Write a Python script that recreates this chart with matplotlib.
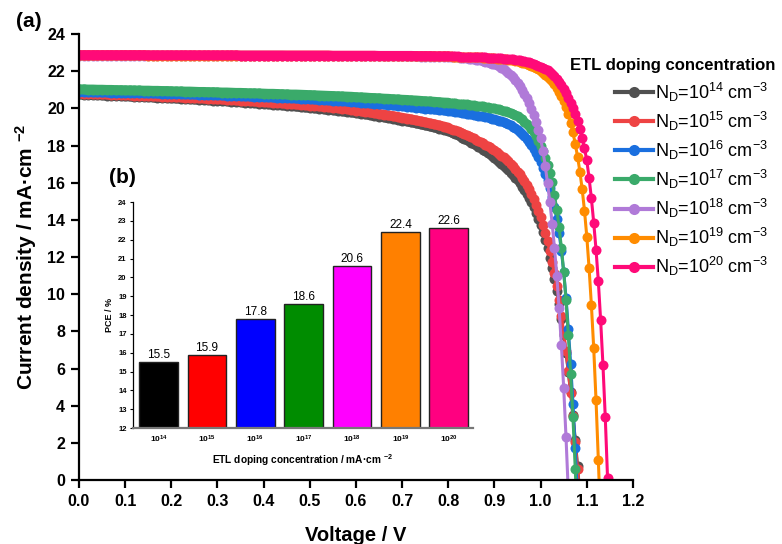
import numpy as np
import matplotlib.pyplot as plt

plt.rcParams['font.family'] = ['Liberation Sans', 'DejaVu Sans']
plt.rcParams['mathtext.fontset'] = 'custom'
plt.rcParams['mathtext.rm'] = 'Liberation Sans'
plt.rcParams['mathtext.it'] = 'Liberation Sans:italic'
plt.rcParams['mathtext.bf'] = 'Liberation Sans:bold'

# J-V data: *_lo sampled every 0.01 V from 0 V, *_hi every 0.005 V from 0.80 V
gray_lo = [20.75, 20.74, 20.73, 20.72, 20.71, 20.70, 20.69, 20.68, 20.67, 20.66,
           20.65, 20.64, 20.63, 20.62, 20.61, 20.60, 20.59, 20.57, 20.56, 20.55,
           20.54, 20.53, 20.52, 20.50, 20.49, 20.48, 20.46, 20.45, 20.44, 20.42,
           20.41, 20.39, 20.38, 20.36, 20.34, 20.33, 20.31, 20.29, 20.28, 20.26,
           20.24, 20.22, 20.20, 20.18, 20.16, 20.14, 20.12, 20.10, 20.07, 20.05,
           20.03, 20.00, 19.98, 19.95, 19.93, 19.90, 19.87, 19.84, 19.81, 19.78,
           19.75, 19.71, 19.68, 19.64, 19.60, 19.56, 19.52, 19.48, 19.44, 19.39,
           19.34, 19.30, 19.25, 19.20, 19.14, 19.09, 19.03, 18.97, 18.91, 18.85]
gray_hi = [18.79, 18.73, 18.67, 18.61, 18.55, 18.49, 18.43, 18.37, 18.30, 18.23,
           18.16, 18.09, 18.02, 17.94, 17.86, 17.78, 17.70, 17.61, 17.52, 17.43,
           17.33, 17.23, 17.13, 17.02, 16.91, 16.79, 16.67, 16.54, 16.41, 16.27,
           16.12, 15.96, 15.79, 15.61, 15.41, 15.19, 14.95, 14.68, 14.39, 14.07,
           13.72, 13.34, 12.92, 12.46, 11.96, 11.42, 10.83, 10.18, 9.48, 8.65,
           7.78, 6.84, 5.82, 4.71, 3.50, 2.18, 0.75, -0.80]

red_lo = [20.80, 20.79, 20.78, 20.77, 20.76, 20.76, 20.75, 20.74, 20.73, 20.72,
          20.71, 20.70, 20.69, 20.68, 20.67, 20.66, 20.65, 20.64, 20.63, 20.62,
          20.61, 20.60, 20.59, 20.58, 20.57, 20.55, 20.54, 20.53, 20.52, 20.50,
          20.49, 20.48, 20.46, 20.45, 20.43, 20.42, 20.40, 20.39, 20.37, 20.36,
          20.34, 20.32, 20.31, 20.29, 20.27, 20.25, 20.23, 20.21, 20.19, 20.17,
          20.15, 20.13, 20.11, 20.09, 20.06, 20.04, 20.01, 19.99, 19.96, 19.93,
          19.88, 19.85, 19.81, 19.78, 19.74, 19.70, 19.66, 19.62, 19.58, 19.54,
          19.49, 19.45, 19.40, 19.35, 19.30, 19.25, 19.19, 19.14, 19.08, 19.02]
red_hi = [18.96, 18.91, 18.86, 18.81, 18.76, 18.71, 18.66, 18.61, 18.56, 18.50,
          18.44, 18.38, 18.32, 18.26, 18.19, 18.12, 18.05, 17.98, 17.90, 17.82,
          17.74, 17.65, 17.56, 17.46, 17.36, 17.25, 17.14, 17.02, 16.89, 16.76,
          16.60, 16.44, 16.27, 16.09, 15.89, 15.66, 15.40, 15.12, 14.82, 14.49,
          14.13, 13.74, 13.31, 12.84, 12.32, 11.75, 11.12, 10.43, 9.67, 8.84,
          7.93, 6.94, 5.86, 4.69, 3.42, 2.05, 0.58, -1.00]

blue_lo = [20.88, 20.88, 20.87, 20.87, 20.87, 20.86, 20.86, 20.85, 20.85, 20.85,
           20.84, 20.83, 20.83, 20.82, 20.82, 20.81, 20.81, 20.80, 20.79, 20.79,
           20.78, 20.77, 20.77, 20.76, 20.75, 20.75, 20.74, 20.73, 20.72, 20.72,
           20.71, 20.70, 20.69, 20.68, 20.67, 20.66, 20.65, 20.64, 20.63, 20.62,
           20.61, 20.60, 20.59, 20.58, 20.57, 20.56, 20.55, 20.53, 20.52, 20.51,
           20.50, 20.48, 20.47, 20.45, 20.44, 20.42, 20.40, 20.39, 20.37, 20.35,
           20.33, 20.31, 20.29, 20.27, 20.25, 20.23, 20.21, 20.19, 20.16, 20.14,
           20.12, 20.09, 20.07, 20.04, 20.02, 19.99, 19.97, 19.94, 19.91, 19.89]
blue_hi = [19.86, 19.84, 19.83, 19.81, 19.80, 19.78, 19.76, 19.74, 19.72, 19.70,
           19.68, 19.66, 19.64, 19.61, 19.59, 19.57, 19.54, 19.51, 19.48, 19.45,
           19.42, 19.38, 19.34, 19.30, 19.25, 19.20, 19.14, 19.08, 19.01, 18.93,
           18.84, 18.74, 18.63, 18.50, 18.36, 18.20, 18.02, 17.82, 17.60, 17.36,
           17.10, 16.81, 16.49, 16.13, 15.72, 15.25, 14.70, 14.05, 13.28, 12.35,
           11.20, 9.80, 8.15, 6.25, 4.10, 1.70, -0.90]

green_lo = [21.02, 21.02, 21.01, 21.01, 21.00, 21.00, 20.99, 20.99, 20.98, 20.98,
            20.97, 20.97, 20.96, 20.96, 20.95, 20.95, 20.94, 20.94, 20.93, 20.93,
            20.92, 20.91, 20.91, 20.90, 20.90, 20.89, 20.88, 20.88, 20.87, 20.87,
            20.86, 20.85, 20.85, 20.84, 20.83, 20.83, 20.82, 20.81, 20.81, 20.80,
            20.79, 20.78, 20.78, 20.77, 20.76, 20.75, 20.74, 20.74, 20.73, 20.72,
            20.71, 20.70, 20.69, 20.68, 20.67, 20.66, 20.65, 20.64, 20.63, 20.62,
            20.60, 20.59, 20.58, 20.56, 20.55, 20.54, 20.52, 20.51, 20.49, 20.48,
            20.46, 20.45, 20.43, 20.42, 20.40, 20.38, 20.37, 20.35, 20.33, 20.31]
green_hi = [20.30, 20.29, 20.28, 20.27, 20.26, 20.25, 20.23, 20.22, 20.21, 20.19,
            20.18, 20.16, 20.15, 20.13, 20.12, 20.10, 20.08, 20.06, 20.04, 20.02,
            20.00, 19.97, 19.94, 19.91, 19.88, 19.84, 19.80, 19.75, 19.70, 19.64,
            19.57, 19.49, 19.40, 19.29, 19.17, 19.03, 18.88, 18.70, 18.50, 18.25,
            17.98, 17.68, 17.35, 16.97, 16.53, 16.02, 15.32, 14.55, 13.60, 12.50,
            11.20, 9.70, 7.80, 5.70, 3.40, 0.60, -2.50]

purple_lo = [22.84, 22.84, 22.84, 22.84, 22.84, 22.84, 22.84, 22.84, 22.84, 22.84,
             22.84, 22.84, 22.84, 22.84, 22.84, 22.84, 22.84, 22.84, 22.84, 22.84,
             22.84, 22.84, 22.84, 22.84, 22.84, 22.83, 22.83, 22.83, 22.83, 22.83,
             22.83, 22.83, 22.83, 22.83, 22.83, 22.83, 22.83, 22.83, 22.83, 22.83,
             22.83, 22.83, 22.83, 22.83, 22.83, 22.82, 22.82, 22.82, 22.82, 22.82,
             22.82, 22.82, 22.82, 22.82, 22.82, 22.81, 22.81, 22.81, 22.81, 22.81,
             22.81, 22.81, 22.81, 22.81, 22.81, 22.80, 22.80, 22.80, 22.80, 22.80,
             22.80, 22.79, 22.79, 22.79, 22.78, 22.78, 22.78, 22.77, 22.77, 22.76]
purple_hi = [22.76, 22.76, 22.75, 22.75, 22.74, 22.73, 22.72, 22.71, 22.70, 22.68,
             22.66, 22.64, 22.62, 22.60, 22.58, 22.55, 22.52, 22.49, 22.45, 22.41,
             22.37, 22.32, 22.26, 22.19, 22.11, 22.02, 21.92, 21.81, 21.68, 21.54,
             21.38, 21.20, 21.00, 20.78, 20.54, 20.27, 19.97, 19.64, 19.27, 18.85,
             18.38, 17.70, 16.90, 15.97, 14.95, 13.80, 12.50, 11.00, 9.25, 7.25,
             4.95, 2.30, -0.65]

orange_lo = [22.85, 22.85, 22.85, 22.85, 22.85, 22.85, 22.85, 22.85, 22.85, 22.85,
             22.85, 22.85, 22.85, 22.85, 22.85, 22.84, 22.84, 22.84, 22.84, 22.84,
             22.84, 22.84, 22.84, 22.84, 22.84, 22.84, 22.84, 22.84, 22.84, 22.84,
             22.84, 22.84, 22.84, 22.84, 22.84, 22.83, 22.83, 22.83, 22.83, 22.83,
             22.83, 22.83, 22.83, 22.83, 22.83, 22.83, 22.83, 22.83, 22.83, 22.83,
             22.83, 22.83, 22.83, 22.83, 22.83, 22.82, 22.82, 22.82, 22.82, 22.82,
             22.82, 22.82, 22.82, 22.82, 22.82, 22.81, 22.81, 22.81, 22.81, 22.81,
             22.81, 22.81, 22.81, 22.80, 22.80, 22.80, 22.80, 22.79, 22.79, 22.79]
orange_hi = [22.79, 22.79, 22.78, 22.78, 22.78, 22.77, 22.77, 22.77, 22.76, 22.76,
             22.76, 22.75, 22.75, 22.74, 22.74, 22.73, 22.73, 22.72, 22.72, 22.71,
             22.69, 22.68, 22.67, 22.66, 22.65, 22.64, 22.62, 22.60, 22.58, 22.56,
             22.53, 22.50, 22.46, 22.42, 22.38, 22.33, 22.28, 22.22, 22.16, 22.09,
             22.01, 21.92, 21.82, 21.71, 21.59, 21.45, 21.29, 21.11, 20.90, 20.66,
             20.38, 20.05, 19.67, 19.22, 18.70, 18.10, 17.40, 16.60, 15.65, 14.50,
             13.10, 11.40, 9.40, 7.10, 4.30, 1.10, -2.30]

pink_lo = [22.86, 22.86, 22.86, 22.86, 22.86, 22.86, 22.86, 22.86, 22.86, 22.86,
           22.86, 22.86, 22.86, 22.86, 22.86, 22.85, 22.85, 22.85, 22.85, 22.85,
           22.85, 22.85, 22.85, 22.85, 22.85, 22.85, 22.85, 22.85, 22.85, 22.85,
           22.85, 22.85, 22.85, 22.85, 22.85, 22.84, 22.84, 22.84, 22.84, 22.84,
           22.84, 22.84, 22.84, 22.84, 22.84, 22.84, 22.84, 22.84, 22.84, 22.84,
           22.84, 22.84, 22.84, 22.84, 22.84, 22.83, 22.83, 22.83, 22.83, 22.83,
           22.83, 22.83, 22.83, 22.83, 22.83, 22.82, 22.82, 22.82, 22.82, 22.82,
           22.82, 22.82, 22.82, 22.81, 22.81, 22.81, 22.81, 22.80, 22.80, 22.80]
pink_hi = [22.80, 22.80, 22.79, 22.79, 22.79, 22.78, 22.78, 22.78, 22.77, 22.77,
           22.77, 22.76, 22.76, 22.75, 22.75, 22.74, 22.74, 22.73, 22.73, 22.72,
           22.72, 22.71, 22.70, 22.69, 22.68, 22.67, 22.66, 22.65, 22.63, 22.62,
           22.60, 22.58, 22.56, 22.53, 22.50, 22.47, 22.43, 22.39, 22.35, 22.30,
           22.25, 22.19, 22.12, 22.04, 21.95, 21.85, 21.73, 21.59, 21.43, 21.25,
           21.05, 20.83, 20.58, 20.31, 20.01, 19.68, 19.31, 18.89, 18.41, 17.85,
           17.20, 16.25, 15.15, 13.85, 12.40, 10.70, 8.60, 6.20, 3.40, 0.10]

exponents = ['14', '15', '16', '17', '18', '19', '20']
line_colors = ['#505050', '#ee4343', '#1a6fdf', '#3aaa6a', '#b07ad8', '#ff8c00', '#ff0a78']
curves_lo = [gray_lo, red_lo, blue_lo, green_lo, purple_lo, orange_lo, pink_lo]
curves_hi = [gray_hi, red_hi, blue_hi, green_hi, purple_hi, orange_hi, pink_hi]

# inset: PCE vs ETL doping
pce = [15.5, 15.9, 17.8, 18.6, 20.6, 22.4, 22.6]
bar_colors = ['#000000', '#ff0000', '#0000ff', '#008c00', '#ff00ff', '#ff8000', '#ff0080']

fig = plt.figure(figsize=(7.82, 5.44), dpi=100)
ax = fig.add_axes([0.101, 0.1176, 0.7084, 0.8199])

handles = []
for jlo, jhi, c, e in zip(curves_lo, curves_hi, line_colors, exponents):
    v = np.concatenate([np.arange(len(jlo)) * 0.01, 0.8 + np.arange(len(jhi)) * 0.005])
    j = np.concatenate([jlo, jhi])
    n = len(jlo) + 1
    # dense marker band in the flat part
    ax.plot(v[:n], j[:n], color=c, lw=7.2, solid_capstyle='round')
    h, = ax.plot(v, j, '-o', color=c, lw=2.2, ms=7.2, mew=0,
                 label=r'N$_\mathrm{D}$=10$^{%s}$ cm$^{-3}$' % e)
    handles.append(h)

ax.set_xlim(0, 1.2)
ax.set_ylim(0, 24)
ax.set_xticks(np.arange(0, 1.21, 0.1))
ax.set_xticklabels(['%.1f' % t for t in np.arange(0, 1.21, 0.1)])
ax.set_yticks(range(0, 25, 2))
for s in ['top', 'right']:
    ax.spines[s].set_visible(False)
for s in ['left', 'bottom']:
    ax.spines[s].set_linewidth(1.6)
ax.tick_params(direction='out', length=6, width=1.6, labelsize=11.5, pad=4)
for t in ax.get_xticklabels() + ax.get_yticklabels():
    t.set_fontweight('bold')
ax.set_xlabel('Voltage / V', fontsize=14.5, fontweight='bold', labelpad=12)
ax.set_ylabel(r'Current density / mA·cm $^{\mathbf{-2}}$', fontsize=15, fontweight='bold', labelpad=6)

fig.text(0.729, 0.879, 'ETL doping concentration', fontsize=12, fontweight='bold',
         ha='left', va='center')
leg = ax.legend(handles=handles, loc='upper left', bbox_to_anchor=(0.786, 0.852),
                bbox_transform=fig.transFigure, frameon=False, fontsize=13,
                handlelength=2.1, handletextpad=0.12, labelspacing=0.33,
                borderaxespad=0, borderpad=0)
for h in leg.legend_handles:
    h.set_linewidth(3)
    h.set_markersize(8)

fig.text(0.037, 0.96, '(a)', fontsize=15, fontweight='bold', ha='center', va='center')
fig.text(0.156, 0.673, '(b)', fontsize=15, fontweight='bold', ha='center', va='center')

axb = fig.add_axes([0.170, 0.2132, 0.4348, 0.4154])
xb = np.arange(len(pce))
axb.bar(xb, pce, width=0.8, color=bar_colors, edgecolor='#222222', linewidth=1)
for x, p in zip(xb, pce):
    axb.text(x, p + 0.05, '%.1f' % p, ha='center', va='bottom', fontsize=8.5)
axb.set_xlim(-0.53, 6.5)
axb.set_ylim(12, 24)
axb.set_yticks(range(12, 25))
axb.set_xticks(xb)
axb.set_xticklabels([r'$\mathbf{10^{%s}}$' % e for e in exponents])
axb.spines['top'].set_visible(False)
axb.spines['right'].set_visible(False)
axb.spines['left'].set_linewidth(0.9)
axb.spines['bottom'].set_linewidth(1.6)
axb.spines['bottom'].set_color('#777777')
axb.tick_params(axis='y', length=2.5, width=0.8, labelsize=5.5, pad=2)
axb.tick_params(axis='x', length=0, labelsize=6, pad=4)
for t in axb.get_yticklabels():
    t.set_fontweight('bold')
axb.set_ylabel('PCE / %', fontsize=6.5, fontweight='bold', labelpad=3)
axb.set_xlabel(r'ETL doping concentration / mA·cm $^{\mathbf{-2}}$', fontsize=7.3, fontweight='bold', labelpad=5)

fig.savefig('out.png', dpi=100)
